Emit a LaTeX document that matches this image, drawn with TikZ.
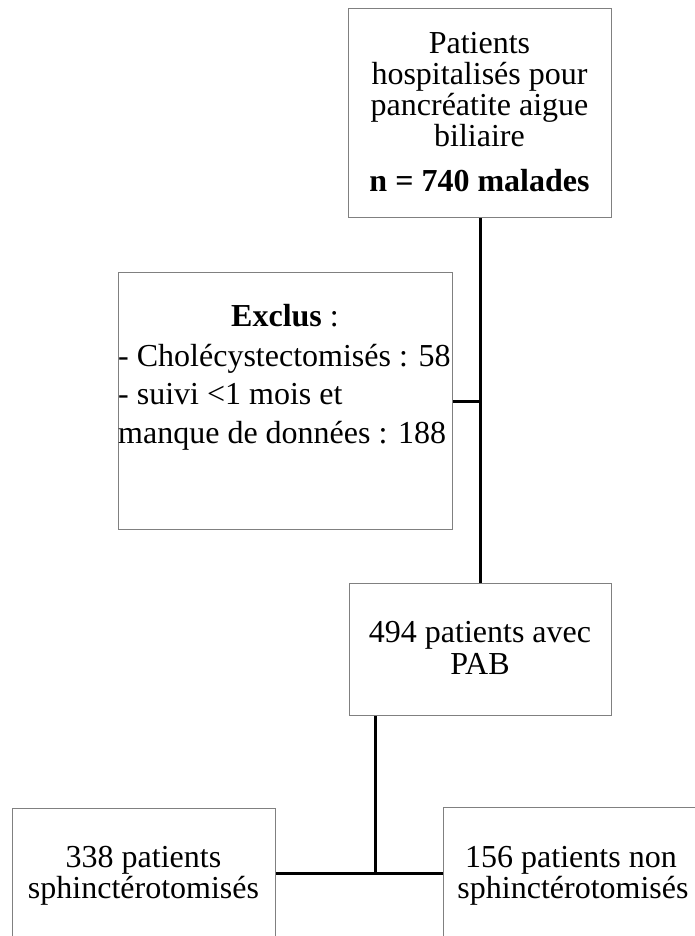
\documentclass[tikz,border=0pt]{standalone}
\usepackage{fontspec}
\setmainfont{Liberation Serif}
\begin{document}
\begin{tikzpicture}[x=1pt,y=-1pt,
  box/.style={draw=black!50,line width=1pt,rectangle,inner sep=0pt,anchor=north west},
  conn/.style={draw=black,line width=3pt},
  txt/.style={anchor=base,inner sep=0pt,font=\fontsize{32}{31}\selectfont},
  txtl/.style={anchor=base west,inner sep=0pt,font=\fontsize{32}{31}\selectfont}]
\useasboundingbox (0,0) rectangle (694,936);
% boxes
\node[box,minimum width=263pt,minimum height=209pt] (top) at (348,8) {};
\node[box,minimum width=334pt,minimum height=257pt] (excl) at (118,272) {};
\node[box,minimum width=262pt,minimum height=132pt] (pab) at (349,583) {};
\node[box,minimum width=263pt,minimum height=130pt] (left) at (12,808) {};
\node[box,minimum width=258pt,minimum height=132pt] (right) at (443,807) {};
% texts
\node[txt] (t1) at (479.5,54) {Patients};
\node[txt] (t2) at (479.5,85) {hospitalisés pour};
\node[txt] (t3) at (479.5,116) {pancréatite aigue};
\node[txt] (t4) at (479.5,147) {biliaire};
\node[txt] (t5) at (479.5,192) {\bfseries n = 740 malades};
\node[txt] (e1) at (285,326) {\textbf{Exclus} :};
\node[txtl] (e2) at (118,366) {- Cholécystectomisés : 58};
\node[txtl] (e3) at (118,404) {- suivi <1 mois et};
\node[txtl] (e4) at (118,443) {manque de données : 188};
\node[txt] (p1) at (480,642) {494 patients avec};
\node[txt] (p2) at (480,674) {PAB};
\node[txt] (l1) at (143.5,867) {338 patients};
\node[txt] (l2) at (143.5,898) {sphinctérotomisés};
\node[txt] (r1) at (571,867) {156 patients non};
\node[txt] (r2) at (573,898) {sphinctérotomisés};
% connectors
\coordinate (split) at (375,873);
\draw[conn] (top.south) -- (top.south |- pab.north);
\draw[conn] (excl.east) -- (excl.east -| top.south);
\draw[conn] (split |- pab.south) -- (split);
\draw[conn] (left.east |- split) -- (right.west |- split);
\end{tikzpicture}
\end{document}
